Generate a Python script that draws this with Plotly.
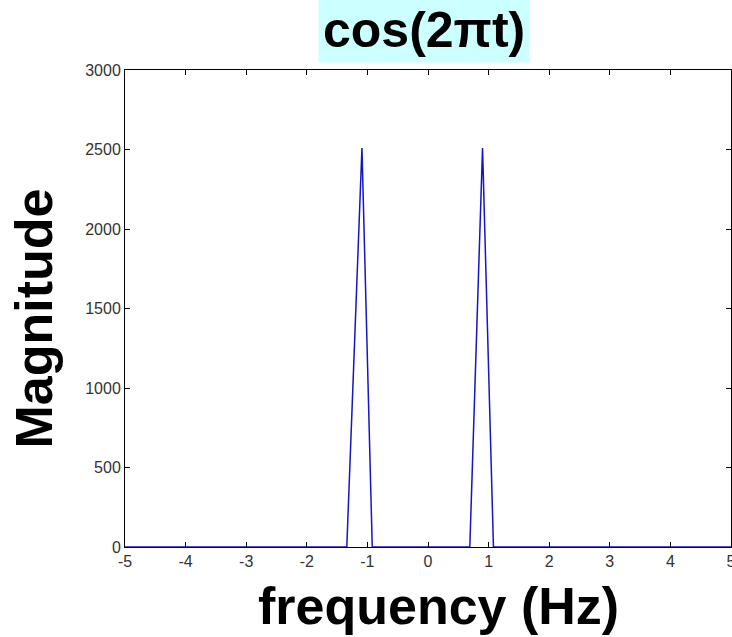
import plotly.graph_objects as go

# Data (frequency in Hz, magnitude)
freq = [-5.0, -1.34, -1.09, -0.92, 0.69, 0.90, 1.08, 5.0]
magnitude = [0, 0, 2510, 0, 0, 2510, 0, 0]

x_ticks = [-5, -4, -3, -2, -1, 0, 1, 2, 3, 4, 5]
y_ticks = [0, 500, 1000, 1500, 2000, 2500, 3000]

title_text = "cos(2πt)"
x_title = "frequency (Hz)"
y_title = "Magnitude"

FONT = "Liberation Sans, Arial, Helvetica, sans-serif"

fig = go.Figure()
fig.add_trace(go.Scatter(
    x=freq, y=magnitude, mode="lines",
    line=dict(color="#1414c8", width=1.5),
    hoverinfo="skip", showlegend=False,
))

axis_common = dict(
    showgrid=False, zeroline=False, automargin=False,
    showline=True, linecolor="black", linewidth=1, mirror="ticks",
    ticks="inside", ticklen=5, tickcolor="black", tickwidth=1,
    tickfont=dict(family=FONT, size=16, color="#333333"),
    ticklabeloverflow="allow",
)

fig.update_layout(
    width=732, height=637,
    margin=dict(l=125, r=1, t=70, b=90),
    paper_bgcolor="white", plot_bgcolor="white",
    xaxis=dict(range=[-5, 5], tickmode="array", tickvals=x_ticks,
               ticktext=[str(v) for v in x_ticks], **axis_common),
    yaxis=dict(range=[0, 3000], tickmode="array", tickvals=y_ticks,
               ticktext=[str(v) for v in y_ticks], **axis_common),
    annotations=[
        dict(text="<b>" + title_text + "</b>", xref="paper", yref="paper",
             x=0.5, y=1, xanchor="center", yanchor="bottom", xshift=-4, yshift=7,
             showarrow=False, bgcolor="#ccffff", borderpad=4,
             font=dict(family=FONT, size=50, color="black")),
        dict(text="<b>" + x_title + "</b>", xref="paper", yref="paper",
             x=0.5, y=0, xanchor="center", yanchor="middle", xshift=10, yshift=-59,
             showarrow=False, font=dict(family=FONT, size=52, color="black")),
        dict(text="<b>" + y_title + "</b>", xref="paper", yref="paper",
             x=0, y=0.479, xanchor="center", yanchor="middle", xshift=-91,
             textangle=-90, showarrow=False,
             font=dict(family=FONT, size=52, color="black")),
    ],
)

fig.write_html(
    "out.html",
    config={"displayModeBar": False},
    post_script="document.body.style.margin='0';document.documentElement.style.overflow='hidden';",
)
